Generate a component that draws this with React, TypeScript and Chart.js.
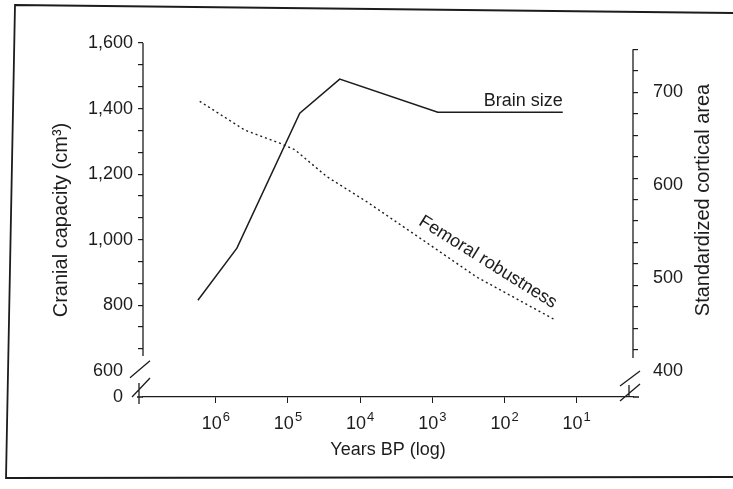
import React, { useEffect, useRef } from "react";
import { Chart, registerables } from "chart.js";

Chart.register(...registerables);

// ---- data ----
// Years before present (reversed log axis)
const brainYears = [1770000, 510000, 68700, 19200, 841, 15.6];
const brainSize = [815, 974, 1386, 1490, 1389, 1389]; // cranial capacity, cm3
const femurYears = [1670000, 396000, 130000, 80500, 29000, 8100, 1200, 243, 20];
const femurArea = [690, 659, 645, 638, 609, 582, 538, 501, 455]; // standardized cortical area

const xTickValues = [1e6, 1e5, 1e4, 1e3, 1e2, 1e1];
const xTickBase = "10";
const xTickExponents = ["6", "5", "4", "3", "2", "1"];
const leftTickLabels = [1600, 1400, 1200, 1000, 800];
const leftBreakLabel = 600;
const leftMinorStep = 200 / 3;
const rightTickLabels = [700, 600, 500, 400];
const rightMinorStart = 746;
const rightMinorStep = 23.1;

const X_MIN = 1.66;
const X_MAX = 1.02e7;
const L_MIN = 520;
const L_MAX = 1600;
const R_MIN = 372;
const R_MAX = 752.7;

const FONT = '"Liberation Sans", Arial, Helvetica, sans-serif';
const INK = "#1c1c1c";
const CLEAR = "rgba(0,0,0,0)";

const decor = {
  id: "decor",
  afterDraw(chart: any) {
    const { ctx, chartArea: a, scales } = chart;
    const xs = scales.x;
    const yl = scales.y;
    const yr = scales.y1;
    ctx.save();
    ctx.strokeStyle = INK;
    ctx.fillStyle = INK;
    ctx.lineCap = "butt";

    // scanned frame
    ctx.lineWidth = 1.8;
    ctx.beginPath();
    ctx.moveTo(15, 5);
    ctx.lineTo(chart.width + 2, 13);
    ctx.lineTo(chart.width + 2, 477);
    ctx.lineTo(6, 478);
    ctx.closePath();
    ctx.stroke();

    ctx.lineWidth = 1.3;
    // left axis line (broken)
    ctx.beginPath();
    ctx.moveTo(a.left, yl.getPixelForValue(L_MAX));
    ctx.lineTo(a.left, yl.getPixelForValue(645));
    ctx.stroke();
    const y6 = yl.getPixelForValue(leftBreakLabel);
    ctx.beginPath();
    ctx.moveTo(a.left - 13, y6 + 7);
    ctx.lineTo(a.left + 7, y6 - 10);
    ctx.moveTo(a.left - 11, a.bottom);
    ctx.lineTo(a.left + 7, a.bottom - 19);
    ctx.moveTo(a.left - 4, a.bottom - 14);
    ctx.lineTo(a.left - 4, a.bottom + 7);
    ctx.moveTo(a.left - 6, a.bottom);
    ctx.lineTo(a.left, a.bottom);
    ctx.stroke();

    // right axis line (broken)
    ctx.beginPath();
    ctx.moveTo(a.right, yr.getPixelForValue(rightMinorStart));
    ctx.lineTo(a.right, yr.getPixelForValue(414));
    ctx.stroke();
    const y4 = yr.getPixelForValue(400);
    ctx.beginPath();
    ctx.moveTo(a.right - 13, y4 + 15);
    ctx.lineTo(a.right + 7, y4);
    ctx.moveTo(a.right - 13, a.bottom + 4);
    ctx.lineTo(a.right + 7, a.bottom - 13);
    ctx.moveTo(a.right - 4, a.bottom - 12);
    ctx.lineTo(a.right - 4, a.bottom);
    ctx.moveTo(a.right, a.bottom);
    ctx.lineTo(a.right + 6, a.bottom);
    ctx.stroke();

    // x tick labels with real superscripts
    ctx.textBaseline = "alphabetic";
    ctx.textAlign = "left";
    xTickValues.forEach((v, i) => {
      const px = xs.getPixelForValue(v);
      ctx.font = `18px ${FONT}`;
      const wb = ctx.measureText(xTickBase).width;
      ctx.font = `13px ${FONT}`;
      const we = ctx.measureText(xTickExponents[i]).width;
      const x0 = px - (wb + we + 1) / 2;
      const base = a.bottom + 32;
      ctx.font = `18px ${FONT}`;
      ctx.fillText(xTickBase, x0, base);
      ctx.font = `13px ${FONT}`;
      ctx.fillText(xTickExponents[i], x0 + wb + 1, base - 8);
    });

    // series labels
    ctx.font = `18px ${FONT}`;
    ctx.textAlign = "right";
    ctx.textBaseline = "alphabetic";
    const bx = xs.getPixelForValue(brainYears[brainYears.length - 1]);
    const by = yl.getPixelForValue(brainSize[brainSize.length - 1]);
    ctx.fillText("Brain size", bx, by - 6);

    ctx.save();
    ctx.translate(xs.getPixelForValue(170), yr.getPixelForValue(517));
    ctx.rotate((32 * Math.PI) / 180);
    ctx.textAlign = "center";
    ctx.textBaseline = "middle";
    ctx.fillText("Femoral robustness", 0, 0);
    ctx.restore();

    // right axis title (reads bottom to top)
    ctx.save();
    ctx.translate(703, 200);
    ctx.rotate(-Math.PI / 2);
    ctx.font = `20px ${FONT}`;
    ctx.textAlign = "center";
    ctx.textBaseline = "middle";
    ctx.fillText("Standardized cortical area", 0, 0);
    ctx.restore();

    ctx.restore();
  },
};

export default function App() {
  const ref = useRef<HTMLCanvasElement>(null);

  useEffect(() => {
    const chart = new Chart(ref.current as HTMLCanvasElement, {
      type: "line",
      data: {
        datasets: [
          {
            label: "Brain size",
            data: brainYears.map((x, i) => ({ x, y: brainSize[i] })),
            xAxisID: "x",
            yAxisID: "y",
            borderColor: INK,
            borderWidth: 1.5,
            pointRadius: 0,
            tension: 0,
            fill: false,
          },
          {
            label: "Femoral robustness",
            data: femurYears.map((x, i) => ({ x, y: femurArea[i] })),
            xAxisID: "x",
            yAxisID: "y1",
            borderColor: INK,
            borderWidth: 1.4,
            borderDash: [2, 3],
            pointRadius: 0,
            tension: 0,
            fill: false,
          },
        ],
      },
      options: {
        responsive: false,
        animation: false,
        devicePixelRatio: 1,
        layout: { padding: { top: 43, left: 0, right: 0, bottom: 0 } },
        plugins: { legend: { display: false }, tooltip: { enabled: false } },
        scales: {
          x: {
            type: "logarithmic",
            position: "bottom",
            reverse: true,
            min: X_MIN,
            max: X_MAX,
            afterBuildTicks: (s: any) => {
              s.ticks = xTickValues.map((v) => ({ value: v }));
            },
            afterFit: (s: any) => {
              s.height = 92;
            },
            grid: { drawOnChartArea: false, drawTicks: true, tickLength: 6, color: INK, lineWidth: 1 },
            border: { display: true, color: INK, width: 1.3 },
            ticks: {
              autoSkip: false,
              maxRotation: 0,
              padding: 7,
              color: INK,
              font: { family: FONT, size: 18 },
              callback: () => "",
            },
            title: {
              display: true,
              text: "Years BP (log)",
              color: INK,
              font: { family: FONT, size: 18 },
              padding: { top: 0, bottom: 28 },
            },
          },
          y: {
            type: "linear",
            position: "left",
            min: L_MIN,
            max: L_MAX,
            afterBuildTicks: (s: any) => {
              const t: any[] = [];
              for (let k = 0; k <= 14; k++) t.push({ value: L_MAX - k * leftMinorStep });
              t.push({ value: leftBreakLabel, isLabel: true });
              t.push({ value: L_MIN, isLabel: true, isZero: true });
              s.ticks = t;
            },
            afterFit: (s: any) => {
              s.width = 143;
            },
            grid: {
              drawOnChartArea: false,
              drawTicks: true,
              tickLength: 5,
              lineWidth: 1.2,
              tickColor: (c: any) => (c.tick && c.tick.isLabel ? CLEAR : INK),
            },
            border: { display: false },
            ticks: {
              autoSkip: false,
              padding: 5,
              color: INK,
              font: { family: FONT, size: 18 },
              callback: (v: any, i: number, ticks: any[]) => {
                const t = ticks[i];
                if (t && t.isZero) return "0  ";
                if (t && t.isLabel) return `${leftBreakLabel}  `;
                const m = leftTickLabels.find((l) => Math.abs(l - Number(v)) < 0.01);
                return m !== undefined ? m.toLocaleString("en-US") : "";
              },
            },
            title: {
              display: true,
              text: "Cranial capacity (cm³)",
              color: INK,
              font: { family: FONT, size: 20 },
              padding: { top: 49, bottom: 0 },
            },
          },
          y1: {
            type: "linear",
            position: "right",
            min: R_MIN,
            max: R_MAX,
            afterBuildTicks: (s: any) => {
              const t: any[] = [];
              for (let k = 0; k <= 14; k++) t.push({ value: rightMinorStart - k * rightMinorStep });
              rightTickLabels.forEach((v) => t.push({ value: v, isLabel: true }));
              s.ticks = t;
            },
            afterFit: (s: any) => {
              s.width = 100;
            },
            grid: {
              drawOnChartArea: false,
              drawTicks: true,
              tickLength: 5,
              lineWidth: 1.2,
              tickColor: (c: any) => (c.tick && c.tick.isLabel ? CLEAR : INK),
            },
            border: { display: false },
            ticks: {
              autoSkip: false,
              padding: 15,
              color: INK,
              font: { family: FONT, size: 18 },
              callback: (v: any, i: number, ticks: any[]) => (ticks[i] && ticks[i].isLabel ? String(v) : ""),
            },
            title: { display: false },
          },
        },
      },
      plugins: [decor],
    });
    return () => chart.destroy();
  }, []);

  return (
    <div style={{ position: "fixed", left: 0, top: 0, width: 733, height: 489, background: "#fff" }}>
      <canvas ref={ref} width={733} height={489} style={{ display: "block", width: 733, height: 489 }} />
    </div>
  );
}
